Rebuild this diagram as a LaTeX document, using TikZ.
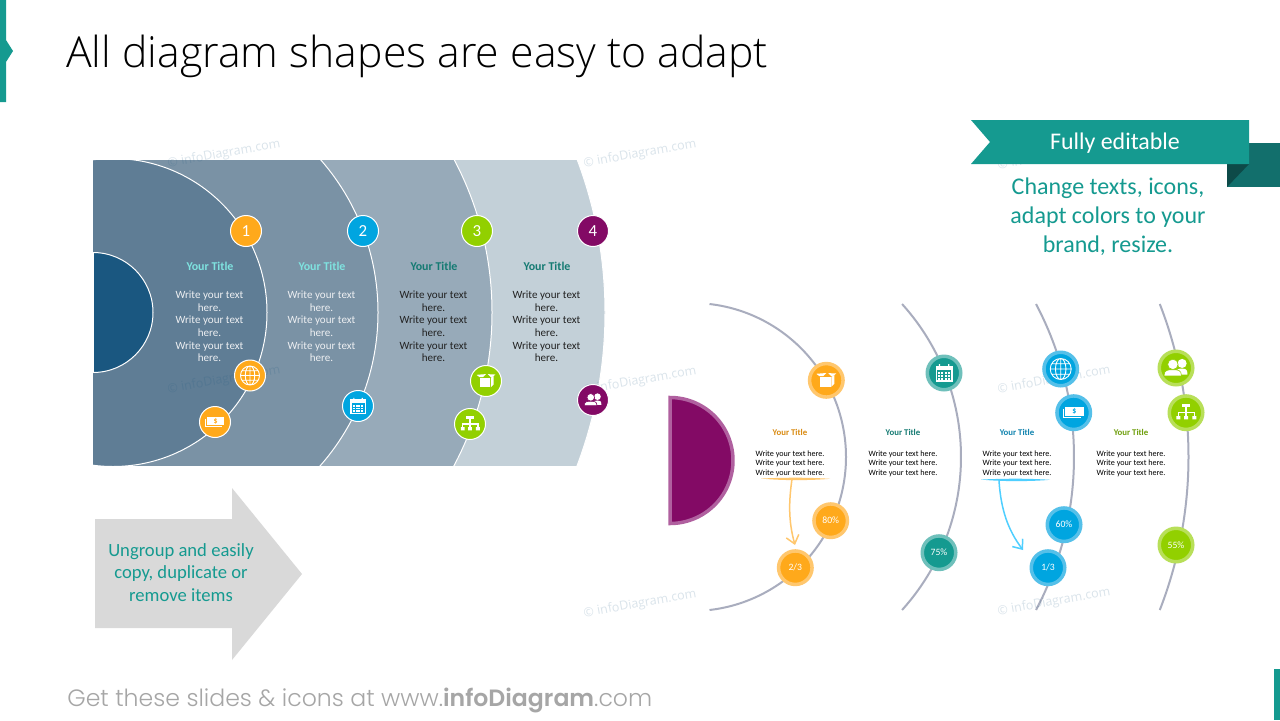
\documentclass[tikz,border=0pt]{standalone}
\usepackage{fontspec}
\setmainfont{Carlito}
\newfontfamily\titlefont{Open Sans Light}
\newfontfamily\footfont{Poppins Light}[BoldFont=Poppins SemiBold]
\newfontfamily\markfont{Open Sans}
\usetikzlibrary{arrows.meta}
\definecolor{teal1}{HTML}{159A90}
\definecolor{teal2}{HTML}{126F6C}
\definecolor{teal3}{HTML}{0D4A48}
\definecolor{tealtxt}{HTML}{147A72}
\definecolor{orange1}{HTML}{FFA91B}
\definecolor{orange2}{HTML}{FFC76E}
\definecolor{blue1}{HTML}{00A5E0}
\definecolor{blue2}{HTML}{55C0E9}
\definecolor{bluenote}{HTML}{4FCFFF}
\definecolor{green1}{HTML}{92D000}
\definecolor{green2}{HTML}{B8DF59}
\definecolor{teal4}{HTML}{6FC0BB}
\definecolor{purple1}{HTML}{830A65}
\definecolor{purple2}{HTML}{B0609F}
\definecolor{band1}{HTML}{5F7D95}
\definecolor{band2}{HTML}{7A92A5}
\definecolor{band3}{HTML}{97AAB9}
\definecolor{band4}{HTML}{C3D0D8}
\definecolor{core}{HTML}{1A5780}
\definecolor{arcgray}{HTML}{A9ADBE}
\definecolor{titlecyan}{HTML}{7FE3E0}
\definecolor{bodylight}{HTML}{EDEFF2}
\definecolor{bodydark}{HTML}{222222}
\tikzset{
	numdot/.style={circle,fill=#1,draw=white,line width=0.02cm,minimum size=0.62cm,inner sep=0pt,text=white,font=\fontsize{9.6}{10}\selectfont},
	ringdot/.style 2 args={circle,fill=#1,draw=#2,line width=0.07cm,minimum size=0.67cm,inner sep=0pt,text=white,font=\fontsize{5.5}{6}\selectfont},
	bigtitle/.style={text=#1,font=\fontsize{6.8}{8}\selectfont\bfseries,inner sep=0pt},
	bigbody/.style={text=#1,align=center,font=\fontsize{6.3}{7.15}\selectfont,inner sep=0pt},
	smalltitle/.style={text=#1,font=\fontsize{5}{6}\selectfont\bfseries,inner sep=0pt},
	smallbody/.style={align=center,font=\fontsize{4.64}{5.4}\selectfont,inner sep=0pt},
	mark text/.style={text=#1,opacity=0.16,rotate=10,inner sep=0pt,font=\markfont\fontsize{7.1}{8}\selectfont},
	pics/iconglobe/.style={code={
		\draw[white,line width=0.018cm] (0,0) circle (10) (0,0) ellipse (5 and 10) (0,-10)--(0,10) (-10,0)--(10,0) (-8.6,-5)--(8.6,-5) (-8.6,5)--(8.6,5);
	}},
	pics/icondollar/.style={code={
		\fill[white] (-8,-5.5) rectangle (9.5,3.5);
		\draw[white,line width=0.02cm] (-9.5,-3.5)--(-9.5,5)--(7,5);
		\node[text=#1,inner sep=0pt,font=\fontsize{4.5}{5}\selectfont\bfseries] (sign) at (0.7,-1) {\$};
	}},
	pics/iconcal/.style={code={
		\draw[white,line width=0.025cm] (-7.5,-6.5) rectangle (7.5,7.5);
		\fill[white] (-7.5,-6.5) rectangle (7.5,-3);
		\fill[white] (-5,-8.5) rectangle (-3.8,-6) (3.8,-8.5) rectangle (5,-6);
		\foreach \gx in {-5.5,-2.5,0.5,3.5}
			\foreach \gy in {-1,1.8,4.6}
				\fill[white] (\gx,\gy) rectangle +(2,1.7);
	}},
	pics/iconbox/.style={code={
		\fill[white] (-6.5,-3.2)--(4.2,-3.2)--(4.2,6.8)--(-6.5,6.8)--cycle;
		\fill[white] (5,-3.4)--(8,-5.2)--(8,3.6)--(5,6.6)--cycle;
		\fill[white] (-10,-6.5)--(0,-7.3)--(-3,-4.2)--(-7,-4.2)--cycle;
		\fill[white] (2,-7.2)--(10,-6.8)--(6.5,-4.2)--(5,-4.2)--cycle;
	}},
	pics/iconorg/.style={code={
		\fill[white] (-4,-8.3) rectangle (4,-5.3);
		\fill[white] (-9.7,3.3) rectangle (-5.7,6.7) (-2,3.3) rectangle (2,6.7) (6.3,3.3) rectangle (10.3,6.7);
		\draw[white,line width=0.025cm] (0,-5.3)--(0,3.3) (-7.7,3.3)--(-7.7,0)--(8.3,0)--(8.3,3.3);
	}},
	pics/iconpeople/.style={code={
		\fill[white] (4.7,-3.5) circle (3.5);
		\fill[white] (0,5) .. controls (0,0.5) and (2,0.5) .. (4.7,0.5) .. controls (7.5,0.5) and (8.8,1) .. (8.8,5) -- cycle;
		\filldraw[white,draw=#1,line width=0.012cm] (-2.4,-2.8) circle (4);
		\filldraw[white,draw=#1,line width=0.012cm] (-9.3,6) .. controls (-9.3,1.3) and (-6,1.3) .. (-2.4,1.3) .. controls (1,1.3) and (4.2,1.3) .. (4.2,6) -- cycle;
	}},
}
\begin{document}
\begin{tikzpicture}[>=stealth,x=0.02cm,y=-0.02cm]
	\useasboundingbox (0,0) rectangle (1280,720);
	\fill[white] (0,0) rectangle (1280,720);
	% bar at the top left, bar at the bottom right
	\fill[teal1] (0,0)--(6,0)--(6,40)--(13,51)--(6,62)--(6,102)--(0,102)--cycle;
	\fill[teal1] (1274,669) rectangle (1280,720);
	\node[anchor=base west,inner sep=0pt,font=\titlefont\fontsize{24.33}{28}\selectfont] (title) at (66,67) {All diagram shapes are easy to adapt};
	% left diagram
	\begin{scope}
		\clip (93,160) rectangle (605,465);
		\foreach \cx/\rad/\col in {173/432/band4,165/327/band3,146/232/band2,113/154/band1}
			\filldraw[fill=\col,draw=white,line width=0.02cm] (\cx,312.5) circle (\rad);
		\filldraw[fill=core,draw=white,line width=0.02cm] (93,312.5) circle (60);
	\end{scope}
	\draw[white,line width=0.02cm] (93,252.5)--(93,372.5);
	\foreach \nm/\xx/\tcol/\bcol in {a/210/titlecyan/bodylight,b/322/titlecyan/bodylight,c/434/tealtxt/bodydark,d/547/tealtxt/bodydark}{
		\node[bigtitle=\tcol] (title\nm) at (\xx,266) {Your Title};
		\node[bigbody=\bcol] (body\nm) at (\xx-0.5,326.5) {Write your text\\here.\\Write your text\\here.\\Write your text\\here.};
	}
	% right diagram, arcs
	\foreach \cx/\rad in {692/154,733/228,747/327,766.5/422}{
		\pgfmathsetmacro{\ang}{asin(153/\rad)}
		\draw[arcgray,line width=0.04cm,samples=80,smooth,domain=-\ang:\ang] plot({\cx+\rad*cos(\x)},{457+\rad*sin(\x)});
	}
	\draw[fill=purple1,draw=purple2,line width=0.07cm,samples=80,domain=-90:90] plot({670+63*cos(\x)},{460.5+63*sin(\x)}) -- cycle;
	\foreach \nm/\xx/\col in {e/790/D98A10,f/903/147A72,g/1017/0E82AE,h/1131/6E9E0B}{
		\definecolor{thiscol}{HTML}{\col}
		\node[smalltitle=thiscol] (title\nm) at (\xx,432) {Your Title};
		\node[smallbody] (body\nm) at (\xx,463.5) {Write your text here.\\Write your text here.\\Write your text here.};
	}
	% notes under two of the texts
	\fill[orange2] (761,478.5) .. controls (790,477.3) and (810,477.5) .. (830,478.8) .. controls (810,480.6) and (780,480.6) .. cycle;
	\fill[bluenote] (981,479.5) .. controls (1010,478.3) and (1030,478.5) .. (1050,479.8) .. controls (1030,481.6) and (1000,481.6) .. cycle;
	\coordinate (noteA) at (792,479);
	\coordinate (tipA) at (795,545);
	\coordinate (noteB) at (999,481);
	\coordinate (tipB) at (1023,550);
	\draw[orange2,line width=0.03cm,-{Straight Barb[length=0.16cm,width=0.26cm]}] (noteA) .. controls (789,500) and (788,520) .. (tipA);
	\draw[bluenote,line width=0.03cm,-{Straight Barb[length=0.16cm,width=0.26cm]}] (noteB) .. controls (1001,510) and (1008,530) .. (tipB);
	% faint marks
	\foreach \nm/\xx/\yy in {m1/224/154,m2/640/154,m3/224/380,m4/640/381,m5/1054/380,m6/640/604,m7/1054/602,m8/1054/156}
		\node[mark text=core] (\nm) at (\xx,\yy) {© infoDiagram.com};
	% dots with numbers
	\foreach \nm/\xx/\col in {1/246/orange1,2/363/blue1,3/477/green1,4/593/purple1}
		\node[numdot=\col] (num\nm) at (\xx,231) {\nm};
	% dots with icons, left
	\foreach \nm/\xx/\yy/\col/\ico in {ic1/250/375.5/orange1/iconglobe,ic2/215/422/orange1/icondollar,ic3/358/406/blue1/iconcal,ic4/486/381/green1/iconbox,ic5/470/424/green1/iconorg,ic6/593/400/purple1/iconpeople}{
		\node[numdot=\col] (\nm) at (\xx,\yy) {};
		\pic[scale=0.95] (\nm x) at (\nm) {\ico={\col}};
	}
	% dots with icons, right
	\foreach \nm/\xx/\yy/\col/\rim/\ico/\sc in {rc1/826.3/380.3/orange1/orange2/iconbox/1,rc2/944/373/teal1/teal4/iconcal/1.05,rc3/1060.7/369/blue1/blue2/iconglobe/1.05,rc4/1073.7/412.7/blue1/blue2/icondollar/1.05,rc5/1176/368/green1/green2/iconpeople/1.3,rc6/1186/412.7/green1/green2/iconorg/1}{
		\node[ringdot={\col}{\rim}] (\nm) at (\xx,\yy) {};
		\pic[scale=\sc] (\nm x) at (\nm) {\ico={\col}};
	}
	% dots with values, right
	\foreach \nm/\xx/\yy/\col/\rim/\txt in {p1/830.7/520.7/orange1/orange2/80\%,p2/795.3/567.7/orange1/orange2/{2/3},p3/939/552.7/teal1/teal4/75\%,p4/1064/524.7/blue1/blue2/60\%,p5/1048/567.7/blue1/blue2/{1/3},p6/1176/545/green1/green2/55\%}
		\node[ringdot={\col}{\rim}] (\nm) at (\xx,\yy) {\txt};
	% ribbon
	\fill[teal2] (1227,143) rectangle (1280,187);
	\fill[teal3] (1227,164)--(1249,164)--(1227,187)--cycle;
	\fill[teal1] (971,120)--(1249,120)--(1249,164)--(971,164)--(990,142)--cycle;
	\node[text=white,inner sep=0pt,font=\fontsize{13.6}{15}\selectfont] (ribbon) at (1115,143) {Fully editable};
	\node[text=teal1,align=center,inner sep=0pt,font=\fontsize{13.65}{16.4}\selectfont] (ribbontxt) at (1108,216.5) {Change texts, icons,\\adapt colors to your\\brand, resize.};
	% grey arrow
	\fill[black!15] (95,519)--(232,519)--(232,488)--(302,574)--(232,660)--(232,628)--(95,628)--cycle;
	\node[text=teal1,align=center,inner sep=0pt,font=\fontsize{10.6}{12.8}\selectfont] (arrowtxt) at (181,572.5) {Ungroup and easily\\copy, duplicate or\\remove items};
	\node[anchor=base west,inner sep=0pt,text=black!35,font=\footfont\fontsize{13.43}{15}\selectfont] (foot) at (67,706) {Get these slides \& icons at www.\textbf{infoDiagram}.com};
\end{tikzpicture}
\end{document}
